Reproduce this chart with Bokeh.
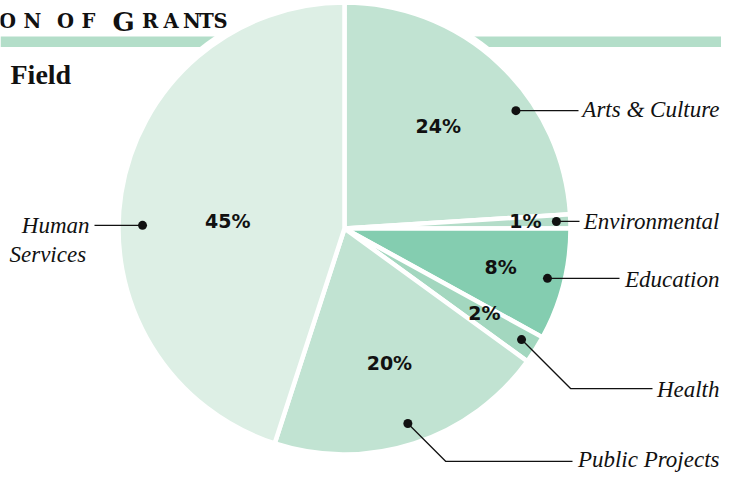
import numpy as np
from bokeh.plotting import figure
from bokeh.models import Range1d, ColumnDataSource
from bokeh.core.properties import value
from bokeh.embed import file_html
from bokeh.resources import INLINE

# ---------------- data ----------------
categories = ["Arts & Culture", "Environmental", "Education", "Health", "Public Projects", "Human Services"]
shares = [24, 1, 8, 2, 20, 45]
pct_labels = ["24%", "1%", "8%", "2%", "20%", "45%"]
colors = ["#c1e3d2", "#b4ddc9", "#84cdb0", "#a3d7bf", "#c1e3d2", "#ddefe5"]

# ---------------- layout ----------------
W, H = 721, 473
TXT = 8  # baseline correction for alphabetic text


def Y(y):
    return H - y


def YT(y):
    return H - (y - TXT)


CX, CY = 344, Y(228)
R = 226

pct_r = [138, 181, 161, 164, 143, 117]
pct_da = [0.4, 0.3, 0.2, 1.0, 0.3, 5.8]
dot_r = [208, 212, 209, 209, 205, 202]
dot_da = [-12.3, 0.1, 0.6, 0.3, 0.0, 8.1]

p = figure(width=W, height=H, output_backend="svg", toolbar_location=None,
           x_range=Range1d(0, W), y_range=Range1d(0, H),
           x_axis_location=None, y_axis_location=None, min_border=0,
           outline_line_color=None, background_fill_color="white",
           border_fill_color="white")
p.grid.visible = False

# header bar
p.quad(left=0, right=735, bottom=Y(46.5), top=Y(36), fill_color="#b3dec9", line_color=None)

# title, small caps look, letter by letter
title_letters = ["O", "N", "O", "F", "G", "R", "A", "N", "T", "S"]
title_cx = [7, 32, 65, 88, 123, 149.5, 170.5, 191.5, 206, 220]
title_sz = ["19.5px", "19.5px", "19.5px", "19.5px", "26px", "19.5px", "19.5px", "19.5px", "19.5px", "19.5px"]
p.text(x=title_cx, y=[YT(29)] * len(title_letters), text=title_letters,
       text_font=value("DejaVu Serif"), text_font_style="bold",
       text_font_size=title_sz, text_align="center", text_baseline="alphabetic",
       text_color="#111111")

p.text(x=[10], y=[YT(82)], text=["Field"], text_font=value("Liberation Serif"),
       text_font_style="bold", text_font_size="28px", text_align="left",
       text_baseline="alphabetic", text_color="#111111")

# white halo behind the pie
p.circle(x=[CX], y=[CY], radius=R + 6, fill_color="white", line_color=None)

# wedges
fr = np.array(shares, dtype=float) / sum(shares)
ends = 90 - np.cumsum(fr) * 360
starts = ends + fr * 360
mids = (starts + ends) / 2
src = ColumnDataSource(dict(start=np.radians(ends), end=np.radians(starts),
                            color=colors, cat=categories))
p.wedge(x=CX, y=CY, radius=R, start_angle="start", end_angle="end",
        fill_color="color", line_color="white", line_width=4.5, source=src)

# percentage labels
pa = np.radians(mids + np.array(pct_da))
px = CX + np.array(pct_r) * np.cos(pa)
py = CY + np.array(pct_r) * np.sin(pa) + 1
p.text(x=px, y=py, text=pct_labels, text_font=value("DejaVu Sans"), text_font_style="bold",
       text_font_size="19px", text_align="center", text_baseline="middle", text_color="#111111")

# callout dots and leaders
da = np.radians(mids + np.array(dot_da))
dx = CX + np.array(dot_r) * np.cos(da)
dy = CY + np.array(dot_r) * np.sin(da)

xs, ys = [], []
for i, xend in zip([0, 1, 2], [578, 579, 619]):
    xs.append([dx[i], xend])
    ys.append([dy[i], dy[i]])
for i, drop, xend in [(3, 49, 652), (4, 38, 572)]:
    xs.append([dx[i], dx[i] + drop, xend])
    ys.append([dy[i], dy[i] - drop, dy[i] - drop])
xs.append([dx[5], 94])
ys.append([dy[5], dy[5]])
p.multi_line(xs=xs, ys=ys, line_color="#111111", line_width=1.3)
p.scatter(x=dx, y=dy, size=9, fill_color="#111111", line_color=None)

lf = value("Liberation Serif")
lab_x = [719, 719, 719, 719, 719]
lab_y = [YT(117), YT(228.5), YT(287), YT(397), YT(467)]
p.text(x=lab_x, y=lab_y, text=categories[:5], text_font=lf, text_font_style="italic",
       text_font_size="23px", text_align="right", text_baseline="alphabetic",
       text_color="#111111")
p.text(x=[89], y=[YT(233)], text=["Human"], text_font=lf, text_font_style="italic",
       text_font_size="23px", text_align="right", text_baseline="alphabetic",
       text_color="#111111")
p.text(x=[9], y=[YT(262)], text=["Services"], text_font=lf, text_font_style="italic",
       text_font_size="23px", text_align="left", text_baseline="alphabetic",
       text_color="#111111")

open("out.html", "w").write(file_html(p, INLINE))
